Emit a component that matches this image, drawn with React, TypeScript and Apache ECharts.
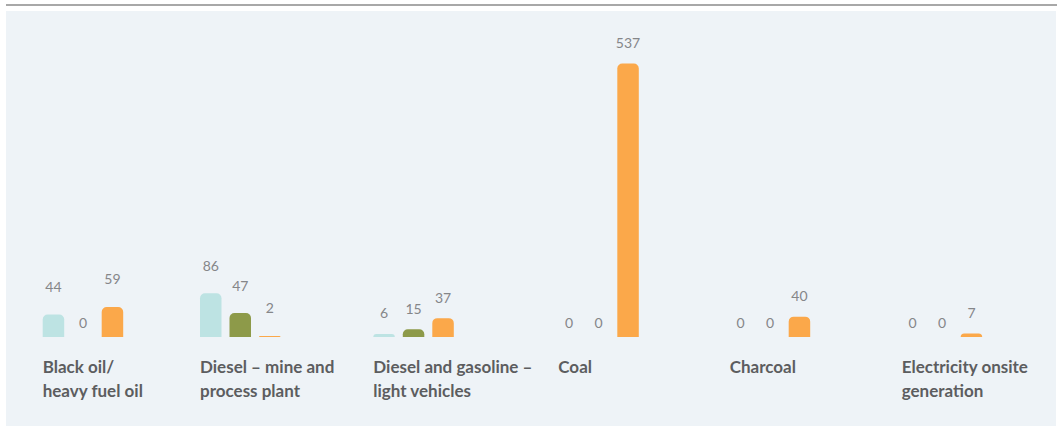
import React, { useEffect, useRef } from "react";
import * as echarts from "echarts";

// Fuel types shown along the bottom
const categories = [
  "Black oil/\nheavy fuel oil",
  "Diesel – mine and\nprocess plant",
  "Diesel and gasoline –\nlight vehicles",
  "Coal",
  "Charcoal",
  "Electricity onsite\ngeneration",
];

// Three series per fuel type (teal, olive, orange)
const tealValues = [44, 86, 6, 0, 0, 0];
const oliveValues = [0, 47, 15, 0, 0, 0];
const orangeValues = [59, 2, 37, 537, 40, 7];

const valueMax = 537;

// Layout of each fuel group (left edge in px) and value-label spacing
const groupLeft = [42.7, 200, 373.3, 558.3, 729.7, 901.7];
const labelGap = [21, 21, 14, 14, 14, 14];

const seriesColors = ["#BDE3E3", "#8D9A49", "#FBA84A"];

const BAR_W = 21.5;
const GROUP_W = BAR_W * 3 + 16;
const PLOT_TOP = 63.5;
const PLOT_H = 273.5;

export default function App() {
  const ref = useRef<HTMLDivElement>(null);

  useEffect(() => {
    if (!ref.current) return;
    const chart = echarts.init(ref.current, undefined, { renderer: "svg" });
    const seriesValues = [tealValues, oliveValues, orangeValues];

    const grid = categories.map((_, i) => ({
      left: groupLeft[i],
      top: PLOT_TOP,
      width: GROUP_W,
      height: PLOT_H,
    }));
    const xAxis = categories.map((c, i) => ({
      type: "category" as const,
      gridIndex: i,
      data: [c],
      show: false,
    }));
    const yAxis = categories.map((_, i) => ({
      type: "value" as const,
      gridIndex: i,
      min: 0,
      max: valueMax,
      show: false,
    }));

    const series: any[] = [];
    categories.forEach((_, i) => {
      seriesValues.forEach((vals, s) => {
        const v = vals[i];
        series.push({
          type: "bar",
          xAxisIndex: i,
          yAxisIndex: i,
          barWidth: BAR_W,
          barGap: "37.2%",
          data: [
            {
              value: v,
              label: { distance: v === 0 ? 8 : labelGap[i] },
            },
          ],
          itemStyle: { color: seriesColors[s], borderRadius: [5, 5, 0, 0] },
          label: {
            show: true,
            position: "top",
            color: "#858689",
            fontSize: 14,
            fontFamily: "Lato",
          },
        });
      });
    });

    const graphic: any[] = [
      {
        type: "rect",
        shape: { x: 6, y: 11, width: 1050, height: 415 },
        style: { fill: "#EEF3F7" },
        z: -10,
      },
      {
        type: "rect",
        shape: { x: 6, y: 4, width: 1051, height: 2 },
        style: { fill: "#A8A8A8" },
      },
      ...categories.map((c, i) => ({
        type: "text",
        x: groupLeft[i],
        y: 355,
        style: {
          text: c,
          font: "bold 17px Lato",
          fill: "#5c5d5f",
          lineHeight: 23.5,
          verticalAlign: "top",
        },
      })),
    ];

    chart.setOption({
      animation: false,
      backgroundColor: "#ffffff",
      grid,
      xAxis,
      yAxis,
      series,
      graphic,
    });
    return () => chart.dispose();
  }, []);

  return (
    <div
      ref={ref}
      style={{ position: "absolute", left: 0, top: 0, width: 1057, height: 430 }}
    />
  );
}
